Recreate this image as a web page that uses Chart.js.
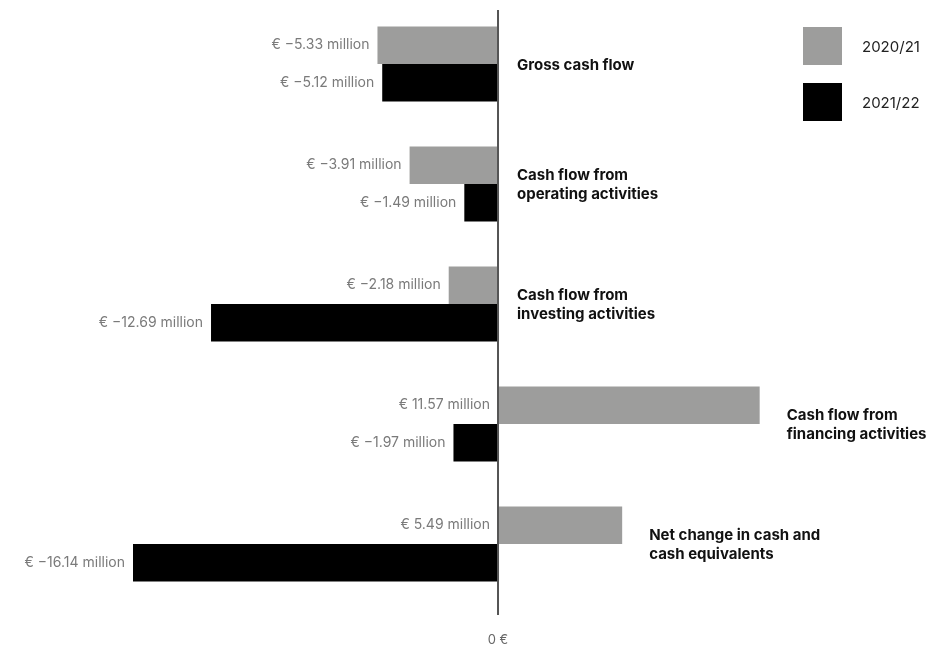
<!DOCTYPE html>
<html>
<head>
<meta charset="utf-8">
<script src="https://cdn.jsdelivr.net/npm/chart.js@4"></script>
<style>
    body { margin: 0; background: #fff; }
    #wrap { width: 932px; height: 646px; }
</style>
</head>
<body>
<div id="wrap"><canvas id="chart" width="932" height="646"></canvas></div>
<script>
// --- дані (млн €) ---
const categories = [
    ['Gross cash flow'],
    ['Cash flow from', 'operating activities'],
    ['Cash flow from', 'investing activities'],
    ['Cash flow from', 'financing activities'],
    ['Net change in cash and', 'cash equivalents']
];
const seriesNames = ['2020/21', '2021/22'];
const values2021 = [-5.33, -3.91, -2.18, 11.57, 5.49];
const values2122 = [-5.12, -1.49, -12.69, -1.97, -16.14];
const seriesColors = ['#9d9d9c', '#000000'];
const zeroTickLabel = '0 €';

const FONT = 'Inter, "DejaVu Sans", sans-serif';

function fmtMillion(v) {
    const s = Math.abs(v).toFixed(2);
    return v < 0 ? `€ −${s} million` : `€ ${s} million`;
}

// підписи значень, назви категорій, нульова лінія, легенда
const annotatePlugin = {
    id: 'annotate',
    afterDatasetsDraw(chart) {
        const ctx = chart.ctx;
        const x = chart.scales.x;
        const y = chart.scales.y;
        const x0 = x.getPixelForValue(0);

        ctx.save();
        // значення
        ctx.font = '14px ' + FONT;
        ctx.fillStyle = '#7a7a7a';
        ctx.textAlign = 'right';
        ctx.textBaseline = 'middle';
        chart.data.datasets.forEach((ds, di) => {
            const meta = chart.getDatasetMeta(di);
            meta.data.forEach((bar, i) => {
                const v = ds.data[i];
                const xe = v < 0 ? x.getPixelForValue(v) : x0;
                ctx.fillText(fmtMillion(v), xe - 8, bar.y);
            });
        });

        // назви категорій
        ctx.font = 'bold 15px ' + FONT;
        ctx.fillStyle = '#111';
        ctx.textAlign = 'left';
        categories.forEach((lines, i) => {
            const maxV = Math.max(0, values2021[i], values2122[i]);
            const lx = x.getPixelForValue(maxV) + (maxV > 0 ? 27 : 19);
            const cy = y.getPixelForValue(i);
            const lh = 19;
            lines.forEach((ln, j) => {
                ctx.fillText(ln, lx, cy + (j - (lines.length - 1) / 2) * lh + 1);
            });
        });

        // нульова лінія
        ctx.strokeStyle = '#555';
        ctx.lineWidth = 2;
        ctx.beginPath();
        ctx.moveTo(x0, 10);
        ctx.lineTo(x0, 615);
        ctx.stroke();

        // легенда
        ctx.font = '15px ' + FONT;
        chart.data.datasets.forEach((ds, di) => {
            const top = 27 + di * 56;
            ctx.fillStyle = ds.backgroundColor;
            ctx.fillRect(803, top, 39, 38);
            ctx.fillStyle = '#222';
            ctx.fillText(ds.label, 862, top + 20);
        });
        ctx.restore();
    }
};

new Chart(document.getElementById('chart'), {
    type: 'bar',
    data: {
        labels: categories,
        datasets: [
            { label: seriesNames[0], data: values2021, backgroundColor: seriesColors[0] },
            { label: seriesNames[1], data: values2122, backgroundColor: seriesColors[1] }
        ]
    },
    options: {
        indexAxis: 'y',
        responsive: false,
        animation: false,
        barPercentage: 1,
        categoryPercentage: 0.625,
        layout: { padding: { left: 133, right: 0, top: 4, bottom: 0 } },
        plugins: { legend: { display: false }, tooltip: { enabled: false } },
        scales: {
            x: {
                min: -16.14,
                max: 19.19,
                grid: { display: false },
                border: { display: false },
                afterBuildTicks: (axis) => { axis.ticks = [{ value: 0 }]; },
                afterFit: (axis) => { axis.height = 42; },
                ticks: {
                    callback: (v) => v === 0 ? zeroTickLabel : '',
                    color: '#666',
                    font: { family: FONT, size: 13 },
                    padding: 20,
                    maxRotation: 0
                }
            },
            y: {
                display: false,
                grid: { display: false }
            }
        }
    },
    plugins: [annotatePlugin]
});
</script>
</body>
</html>
